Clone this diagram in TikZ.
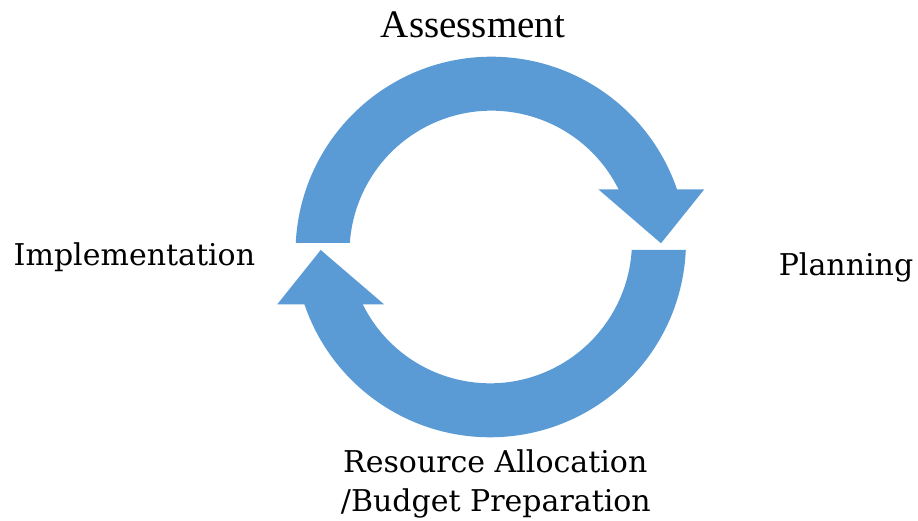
\documentclass[tikz,border=0pt]{standalone}
\usepackage{fontspec}
\setmainfont{DejaVu Serif}
\newfontfamily\timesfont{Liberation Serif}
\usetikzlibrary{calc}
\definecolor{cycblue}{HTML}{5B9BD5}
\begin{document}
\begin{tikzpicture}[x=1pt,y=1pt,
  band/.style={fill=cycblue, draw=none},
  lbl/.style={font=\fontsize{30}{36}\selectfont, inner sep=0pt, anchor=base, text=black}]
\useasboundingbox (0,0) rectangle (918,521);
\coordinate (c1) at (491.5,268.3);
\coordinate (c2) at (490,279.7);
% top arrow (Assessment -> Planning)
\path[band] ($(c1)+(177.16:196)$) arc[start angle=177.16, end angle=18.87, radius=196pt]
  -- (704.3,331.7) -- (661,277.7) -- (598.3,331.7)
  -- ($(c1)+(26.52:142)$) arc[start angle=26.52, end angle=176.08, radius=142pt] -- cycle;
% bottom arrow (Planning -> Implementation)
\path[band] ($(c2)+(-2.54:196)$) arc[start angle=-2.54, end angle=-161.25, radius=196pt]
  -- (277.3,216.7) -- (320.7,271) -- (384,216.7)
  -- ($(c2)+(-153.66:142)$) arc[start angle=-153.66, end angle=-3.51, radius=142pt] -- cycle;
% labels
\node[lbl, font=\timesfont\fontsize{39}{46}\selectfont] (assess) at (473,483) {Assessment};
\node[lbl] (impl) at (134.4,255) {Implementation};
\node[lbl] (plan) at (846,245) {Planning};
\node[lbl] (res) at (495.3,48.7) {Resource Allocation};
\node[lbl] (bud) at (495.9,9.3) {/Budget Preparation};
\end{tikzpicture}
\end{document}
